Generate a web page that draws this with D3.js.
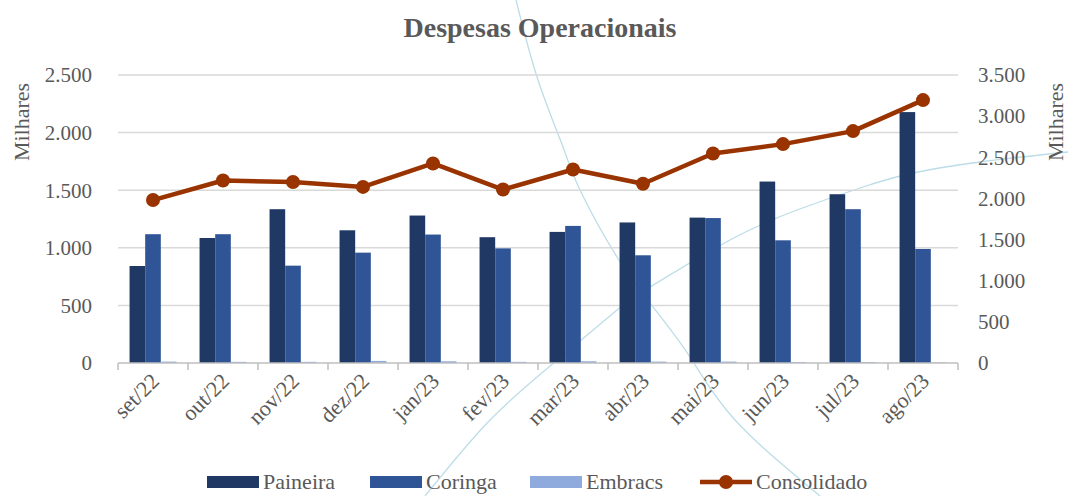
<!DOCTYPE html>
<html>
<head>
<meta charset="utf-8">
<title>Despesas Operacionais</title>
<script src="https://cdnjs.cloudflare.com/ajax/libs/d3/7.8.5/d3.min.js"></script>
<style>
  body { margin: 0; background: #fff; }
  text { font-family: "Liberation Serif", "DejaVu Serif", serif; fill: #595959; }
</style>
</head>
<body>
<div id="chart"></div>
<script>
// data (Milhares)
var months = ["set/22", "out/22", "nov/22", "dez/22", "jan/23", "fev/23",
              "mar/23", "abr/23", "mai/23", "jun/23", "jul/23", "ago/23"];
var paineira = [842, 1085, 1335, 1152, 1280, 1092, 1138, 1220, 1262, 1575, 1465, 2178];
var coringa  = [1118, 1118, 845, 958, 1115, 995, 1190, 935, 1258, 1065, 1335, 990];
var embracs  = [12, 10, 10, 18, 15, 10, 15, 12, 12, 8, 8, 5];
var consolidado = [1980, 2218, 2200, 2140, 2425, 2108, 2352, 2178, 2546, 2660, 2818, 3195];
var leftTicks = [0, 500, 1000, 1500, 2000, 2500];
var rightTicks = [0, 500, 1000, 1500, 2000, 2500, 3000, 3500];
var seriesNames = ["Paineira", "Coringa", "Embracs"];
var colors = { Paineira: "#203864", Coringa: "#2f5597", Embracs: "#8faadc", Consolidado: "#993300" };

var W = 1068, H = 496;
var margin = { top: 75, right: 110, bottom: 133, left: 118 };

var svg = d3.select("#chart").append("svg")
    .attr("width", W).attr("height", H);

// decorative background curves
var deco = d3.line().curve(d3.curveNatural);
svg.append("path")
    .attr("d", deco([[516, 0], [538, 80], [563, 147], [580, 190], [617, 257], [653, 307], [690, 357], [735, 420], [820, 496]]))
    .attr("fill", "none").attr("stroke", "#bcdde8").attr("stroke-width", 1.3);
svg.append("path")
    .attr("d", deco([[425, 496], [490, 420], [555, 362], [617, 310], [650, 287], [730, 240], [797, 210], [863, 187], [913, 173], [980, 162], [1068, 152]]))
    .attr("fill", "none").attr("stroke", "#bcdde8").attr("stroke-width", 1.3);

var x = d3.scaleBand().domain(months)
    .range([margin.left, W - margin.right]).paddingInner(0).paddingOuter(0);
var x1 = d3.scaleBand().domain(seriesNames)
    .range([x.bandwidth() * 0.165, x.bandwidth() * 0.835]).padding(0);
var yL = d3.scaleLinear().domain([0, 2500]).range([H - margin.bottom, margin.top]);
var yR = d3.scaleLinear().domain([0, 3500]).range([H - margin.bottom, margin.top]);

var locale = d3.formatLocale({ decimal: ",", thousands: ".", grouping: [3], currency: ["R$", ""] });
var fmt = locale.format(",.0f");

// gridlines
svg.append("g").selectAll("line").data(leftTicks.slice(1)).enter().append("line")
    .attr("x1", margin.left).attr("x2", W - margin.right)
    .attr("y1", d => yL(d)).attr("y2", d => yL(d))
    .attr("stroke", "#d9d9d9").attr("stroke-width", 1.5);

// left axis labels
svg.append("g").selectAll("text").data(leftTicks).enter().append("text")
    .attr("x", 92).attr("y", d => yL(d)).attr("dy", "0.35em")
    .attr("text-anchor", "end").attr("font-size", 21)
    .text(d => fmt(d));

// right axis labels
svg.append("g").selectAll("text").data(rightTicks).enter().append("text")
    .attr("x", 978).attr("y", d => yR(d)).attr("dy", "0.35em")
    .attr("text-anchor", "start").attr("font-size", 21)
    .text(d => fmt(d));

// axis titles
svg.append("text").attr("transform", "translate(29,122) rotate(-90)")
    .attr("text-anchor", "middle").attr("font-size", 22).text("Milhares");
svg.append("text").attr("transform", "translate(1063,122) rotate(-90)")
    .attr("text-anchor", "middle").attr("font-size", 22).text("Milhares");

// bars
var rows = months.map((m, i) => ({ m: m, Paineira: paineira[i], Coringa: coringa[i], Embracs: embracs[i] }));
var groups = svg.append("g").selectAll("g").data(rows).enter().append("g")
    .attr("transform", d => "translate(" + x(d.m) + ",0)");
groups.selectAll("rect").data(d => seriesNames.map(k => ({ k: k, v: d[k] }))).enter().append("rect")
    .attr("x", d => x1(d.k)).attr("width", x1.bandwidth())
    .attr("y", d => yL(d.v)).attr("height", d => yL(0) - yL(d.v))
    .attr("fill", d => colors[d.k]);

// x axis line and ticks
var xAxis = svg.append("g").attr("transform", "translate(0," + yL(0) + ")");
xAxis.append("line").attr("x1", margin.left).attr("x2", W - margin.right)
    .attr("stroke", "#bfbfbf").attr("stroke-width", 1.5);
xAxis.selectAll(".tk").data(months.concat(["end"])).enter().append("line")
    .attr("x1", (d, i) => margin.left + i * x.step()).attr("x2", (d, i) => margin.left + i * x.step())
    .attr("y1", 0).attr("y2", 7).attr("stroke", "#bfbfbf").attr("stroke-width", 1.5);
xAxis.selectAll("text").data(months).enter().append("text")
    .attr("transform", d => "translate(" + (x(d) + x.bandwidth() / 2 + 2) + ",14) rotate(-45)")
    .attr("text-anchor", "end").attr("dy", "0.35em").attr("font-size", 22)
    .text(d => d);

// Consolidado line
var line = d3.line().x((d, i) => x(months[i]) + x.bandwidth() / 2).y(d => yR(d));
svg.append("path").datum(consolidado).attr("d", line)
    .attr("fill", "none").attr("stroke", colors.Consolidado).attr("stroke-width", 4.5)
    .attr("stroke-linejoin", "round");
svg.append("g").selectAll("circle").data(consolidado).enter().append("circle")
    .attr("cx", (d, i) => x(months[i]) + x.bandwidth() / 2).attr("cy", d => yR(d))
    .attr("r", 7).attr("fill", colors.Consolidado);

// title
svg.append("text").attr("x", 540).attr("y", 37).attr("text-anchor", "middle")
    .attr("font-size", 28).attr("font-weight", "bold").text("Despesas Operacionais");

// legend
var legendItems = [
  { name: "Paineira", x: 207 }, { name: "Coringa", x: 370 },
  { name: "Embracs", x: 530 }, { name: "Consolidado", x: 700 }
];
var legendY = 482;
var lg = svg.append("g");
legendItems.forEach(function (it) {
  if (it.name === "Consolidado") {
    lg.append("line").attr("x1", it.x).attr("x2", it.x + 52).attr("y1", legendY).attr("y2", legendY)
      .attr("stroke", colors.Consolidado).attr("stroke-width", 4.5);
    lg.append("circle").attr("cx", it.x + 26).attr("cy", legendY).attr("r", 7).attr("fill", colors.Consolidado);
  } else {
    lg.append("rect").attr("x", it.x).attr("y", legendY - 6).attr("width", 52).attr("height", 12)
      .attr("fill", colors[it.name]);
  }
  lg.append("text").attr("x", it.x + 56).attr("y", legendY).attr("dy", "0.33em")
    .attr("font-size", 22).text(it.name);
});
</script>
</body>
</html>
